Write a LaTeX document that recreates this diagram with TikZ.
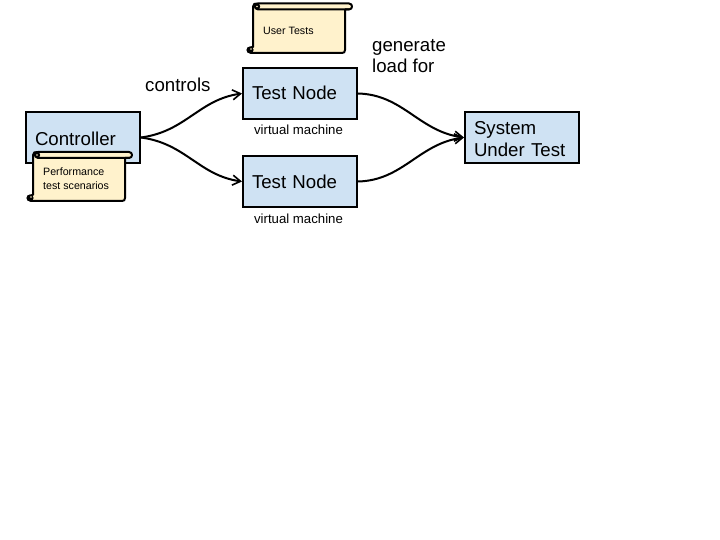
\documentclass[tikz,border=0pt]{standalone}
\usepackage{fontspec}
\setmainfont{Liberation Sans}
\usetikzlibrary{arrows.meta}
\newcommand{\fsz}[1]{\fontsize{#1}{22}\selectfont}
\newcommand{\shiftline}[2]{\raisebox{#1}[13.5pt][0pt]{#2}}
\definecolor{boxblue}{HTML}{CFE2F3}
\definecolor{scrollyel}{HTML}{FFF2CC}
\definecolor{inkk}{HTML}{000000}
\tikzset{
  x=1pt,y=-1pt,
  box/.style={draw=inkk,fill=boxblue,line width=2pt,minimum width=114pt,minimum height=51pt,
    inner xsep=9pt,inner ysep=0pt,text width=96pt,align=left,font=\fsz{18.67},anchor=center},
  bigtext/.style={font=\fsz{18.67},inner sep=0pt,align=left,anchor=base west},
  smalltext/.style={font=\fsz{10.67},inner sep=0pt,align=left,anchor=base west},
  vmtext/.style={font=\fsz{13.2},inner sep=0pt,anchor=base},
  flow/.style={draw=inkk,line width=2pt,-{Straight Barb[length=8pt,width=10pt,line width=1.6pt]}},
  scrollline/.style={draw=inkk,line width=2pt,line join=round,fill=scrollyel},
}
% #1 left, #2 top, #3 body right, #4 roll right, #5 bottom
\newcommand{\scrollshape}[5]{%
  \path[scrollline]
    (#1,#2+3) .. controls (#1,#2) and (#1+2,#2) .. (#1+5,#2)
    -- (#4-3,#2) .. controls (#4+1,#2) and (#4+1,#2+6) .. (#4-3,#2+6)
    -- (#3,#2+6) -- (#3,#5-3) .. controls (#3,#5-1) and (#3-1,#5) .. (#3-3,#5)
    -- (#1-2,#5) .. controls (#1-4,#5) and (#1-4,#5-6) .. (#1-1,#5-6)
    -- (#1,#5-6) -- cycle;
  \path[draw=inkk,line width=2pt] (#1+5,#2) .. controls (#1+2,#2) and (#1+2,#2+6) .. (#1+5,#2+6) -- (#4-3,#2+6);
  \path[fill=inkk] (#1-3,#5-3) circle[radius=3.6];
  \path[fill=scrollyel] (#1-2,#5-4) circle[radius=0.9];
  \path[fill=inkk] (#1+4,#2+3) circle[radius=3.2];
  \path[fill=scrollyel] (#1+4,#2+3) circle[radius=0.9];
}
\begin{document}
\begin{tikzpicture}
\useasboundingbox (0,0) rectangle (720,540);
\node[box] (ctrl) at (83,137.5) {\shiftline{-1pt}{Controller}};
\node[box] (tn1) at (300,93.5) {\shiftline{0.4pt}{Test Node}};
\node[box] (tn2) at (300,181.5) {\shiftline{-0.5pt}{Test Node}};
\node[box] (sut) at (522,137.5) {\shiftline{-1pt}{System}\\\shiftline{-1pt}{Under Test}};
\draw[flow] (ctrl.east) .. controls +(45,-6) and +(-43,6) .. (tn1.west);
\draw[flow] (ctrl.east) .. controls +(45,6) and +(-43,-6) .. (tn2.west);
\draw[flow] (tn1.east) .. controls +(45,1) and +(-45,-6) .. (sut.west);
\draw[flow] (tn2.east) .. controls +(45,-1) and +(-45,6) .. (sut.west);
\scrollshape{33}{152}{125}{132}{201}
\scrollshape{253}{3.5}{345}{352}{53}
\node[smalltext] (perf) at (43,176) {Performance};
\node[smalltext] (perf2) at (43,190) {test scenarios};
\node[smalltext] (ut) at (263,35) {User Tests};
\node[bigtext] (controls) at (145,92) {controls};
\node[bigtext] (gen) at (372,52) {generate};
\node[bigtext] (load) at (372,73) {load for};
\node[vmtext] (vm1) at (298.5,134.5) {virtual machine};
\node[vmtext] (vm2) at (298.5,223) {virtual machine};
\end{tikzpicture}
\end{document}
